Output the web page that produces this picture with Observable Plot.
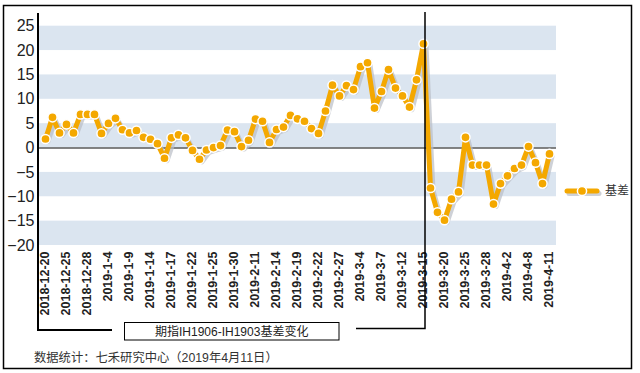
<!DOCTYPE html>
<html><head><meta charset="utf-8">
<script src="https://cdn.jsdelivr.net/npm/d3@7"></script>
<script src="https://cdn.jsdelivr.net/npm/@observablehq/plot@0.6"></script>
<style>body{margin:0;background:#fff}</style>
</head><body><div id="chart"></div>
<script>
const dates = [
  "2018-12-20","2018-12-21","2018-12-24","2018-12-25","2018-12-26","2018-12-27","2018-12-28",
  "2019-1-2","2019-1-3","2019-1-4","2019-1-7","2019-1-8","2019-1-9","2019-1-10","2019-1-11",
  "2019-1-14","2019-1-15","2019-1-16","2019-1-17","2019-1-18","2019-1-21","2019-1-22","2019-1-23",
  "2019-1-24","2019-1-25","2019-1-28","2019-1-29","2019-1-30","2019-1-31","2019-2-1",
  "2019-2-11","2019-2-12","2019-2-13","2019-2-14","2019-2-15","2019-2-18","2019-2-19","2019-2-20",
  "2019-2-21","2019-2-22","2019-2-25","2019-2-26","2019-2-27","2019-2-28","2019-3-1",
  "2019-3-4","2019-3-5","2019-3-6","2019-3-7","2019-3-8","2019-3-11","2019-3-12","2019-3-13",
  "2019-3-14","2019-3-15","2019-3-18","2019-3-19","2019-3-20","2019-3-21","2019-3-22",
  "2019-3-25","2019-3-26","2019-3-27","2019-3-28","2019-3-29","2019-4-1","2019-4-2","2019-4-3",
  "2019-4-4","2019-4-8","2019-4-9","2019-4-10","2019-4-11"
];
const basis = [
  1.85, 6.3, 3.1, 4.85, 3.1, 6.9, 6.9,
  6.9, 3.0, 5.05, 6.1, 3.75, 3.1, 3.6, 2.2,
  1.8, 0.9, -2.1, 2.1, 2.7, 2.1, -0.5, -2.3,
  -0.4, 0.1, 0.5, 3.7, 3.35, 0.3, 1.6,
  5.95, 5.5, 1.15, 3.8, 4.3, 6.7, 6.0, 5.5,
  4.0, 3.0, 7.6, 12.9, 10.7, 12.8, 12.0,
  16.7, 17.5, 8.2, 11.6, 16.1, 12.3, 10.7, 8.4,
  14.0, 21.4, -8.2, -13.2, -14.8, -10.5, -9.0,
  2.2, -3.5, -3.5, -3.5, -11.5, -7.3, -5.7, -4.2,
  -3.5, 0.3, -3.0, -7.3, -1.2
];
const tickLabels = [
  "2018-12-20","2018-12-25","2018-12-28","2019-1-4","2019-1-9","2019-1-14","2019-1-17",
  "2019-1-22","2019-1-25","2019-1-30","2019-2-11","2019-2-14","2019-2-19","2019-2-22",
  "2019-2-27","2019-3-4","2019-3-7","2019-3-12","2019-3-15","2019-3-20","2019-3-25",
  "2019-3-28","2019-4-2","2019-4-8","2019-4-11"
];
const yTicks = [-20, -15, -10, -5, 0, 5, 10, 15, 20, 25];
const bandTops = [25, 15, 5, -5, -15];
const bandBottoms = [20, 10, 0, -10, -20];
const markDate = "2019-3-15";
const seriesName = "基差";
const chartTitle = "期指IH1906-IH1903基差变化";
const caption = "数据统计：七禾研究中心（2019年4月11日）";

const data = dates.map((d, i) => ({date: d, value: basis[i]}));
const bandData = bandTops.map((t, i) => ({y1: t, y2: bandBottoms[i]}));
const orange = "#f4a800";
const shadow = "#b9bec6";
const font = "'Liberation Sans', Arial, 'Noto Sans CJK SC', sans-serif";

const plot = Plot.plot({
  width: 640, height: 373,
  marginLeft: 38, marginRight: 84, marginTop: 25.7, marginBottom: 128,
  style: {fontFamily: font, background: "#fff", overflow: "visible"},
  x: {type: "point", domain: dates, padding: 0.5},
  y: {domain: [-20, 25]},
  marks: [
    Plot.rect(bandData, {y1: "y1", y2: "y2", fill: "#dbe5f0"}),
    Plot.ruleY([0], {stroke: "#5a5a5a", strokeWidth: 1.5}),
    Plot.line(data, {x: "date", y: "value", stroke: shadow, strokeWidth: 5, dx: 2.5, dy: 2.5, strokeOpacity: 0.7}),
    Plot.line(data, {x: "date", y: "value", stroke: orange, strokeWidth: 5}),
    Plot.dot(data, {x: "date", y: "value", r: 4.6, fill: orange, stroke: "#fff", strokeWidth: 1.5}),
    Plot.axisY({ticks: yTicks, tickSize: 0, tickPadding: 4, fontSize: 16, fill: "#222", label: null}),
    Plot.axisX({ticks: tickLabels, tickSize: 0, tickPadding: 6, tickRotate: -90, fontSize: 12.5, fontWeight: "bold", fill: "#222", dx: -1, label: null})
  ]
});

const svg = d3.select(plot);
const xs = plot.scale("x");
const xMark = xs.apply(markDate) + 2;
const axisX0 = 38;
const g = svg.append("g").attr("fill", "none");
// outer border
g.append("rect").attr("x", 3.5).attr("y", 5.5).attr("width", 628).attr("height", 363)
  .attr("stroke", "#000").attr("stroke-width", 1.5);
// y-axis line / left bracket
g.append("path").attr("d", `M${axisX0},13V330H112`).attr("stroke", "#000").attr("stroke-width", 2);
// right bracket at mark date
g.append("path").attr("d", `M${xMark},12V328.5H356`).attr("stroke", "#000").attr("stroke-width", 1.5);
// title box
svg.append("rect").attr("x", 124.5).attr("y", 322.5).attr("width", 214.5).attr("height", 17.5)
  .attr("fill", "#fff").attr("stroke", "#000").attr("stroke-width", 1);
svg.append("text").attr("x", 231.7).attr("y", 331.5).attr("text-anchor", "middle")
  .attr("dominant-baseline", "central").attr("font-size", 12).attr("font-weight", "normal").attr("fill", "#222")
  .attr("font-family", font).text(chartTitle);
// caption
svg.append("text").attr("x", 34).attr("y", 358).attr("text-anchor", "start").attr("dominant-baseline", "central")
  .attr("font-size", 12.3).attr("fill", "#333").attr("font-family", font).text(caption);
// legend
const lg = svg.append("g");
lg.append("line").attr("x1", 569).attr("x2", 599).attr("y1", 193.5).attr("y2", 193.5)
  .attr("stroke", shadow).attr("stroke-width", 5).attr("stroke-opacity", 0.7).attr("stroke-linecap", "round");
lg.append("line").attr("x1", 567).attr("x2", 597).attr("y1", 191).attr("y2", 191)
  .attr("stroke", orange).attr("stroke-width", 5).attr("stroke-linecap", "round");
lg.append("circle").attr("cx", 582).attr("cy", 191).attr("r", 4.6)
  .attr("fill", orange).attr("stroke", "#fff").attr("stroke-width", 1.5);
lg.append("text").attr("x", 605).attr("y", 191).attr("text-anchor", "start").attr("dominant-baseline", "central")
  .attr("font-size", 12).attr("fill", "#333").attr("font-family", font).text(seriesName);

document.getElementById("chart").appendChild(plot);
</script>
</body></html>
